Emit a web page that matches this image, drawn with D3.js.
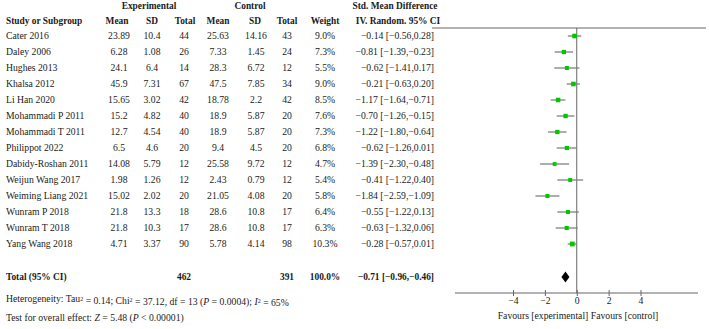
<!DOCTYPE html>
<html><head><meta charset="utf-8">
<script src="https://cdn.jsdelivr.net/npm/d3@7"></script>
<style>body{margin:0;background:#fff}svg{display:block}text{font-family:"Liberation Serif","Times New Roman",serif;fill:#1a1a1a}</style>
</head><body><svg id="c" width="709" height="329"></svg>
<script>
const studies = ["Cater 2016","Daley 2006","Hughes 2013","Khalsa 2012","Li Han 2020","Mohammadi P 2011","Mohammadi T 2011","Philippot 2022","Dabidy-Roshan 2011","Weijun Wang 2017","Weiming Liang 2021","Wunram P 2018","Wunram T 2018","Yang Wang 2018"];
const expMean = ["23.89","6.28","24.1","45.9","15.65","15.2","12.7","6.5","14.08","1.98","15.02","21.8","21.8","4.71"];
const expSD = ["10.4","1.08","6.4","7.31","3.02","4.82","4.54","4.6","5.79","1.26","2.02","13.3","10.3","3.37"];
const expN = [44,26,14,67,42,40,40,20,12,12,20,18,17,90];
const ctlMean = ["25.63","7.33","28.3","47.5","18.78","18.9","18.9","9.4","25.58","2.43","21.05","28.6","28.6","5.78"];
const ctlSD = ["14.16","1.45","6.72","7.85","2.2","5.87","5.87","4.5","9.72","0.79","4.08","10.8","10.8","4.14"];
const ctlN = [43,24,12,34,42,20,20,20,12,12,20,17,17,98];
const weight = [9.0,7.3,5.5,9.0,8.5,7.6,7.3,6.8,4.7,5.4,5.8,6.4,6.3,10.3];
const smd = [-0.14,-0.81,-0.62,-0.21,-1.17,-0.70,-1.22,-0.62,-1.39,-0.41,-1.84,-0.55,-0.63,-0.28];
const lo = [-0.56,-1.39,-1.41,-0.63,-1.64,-1.26,-1.80,-1.26,-2.30,-1.22,-2.59,-1.22,-1.32,-0.57];
const hi = [0.28,-0.23,0.17,0.20,-0.71,-0.15,-0.64,0.01,-0.48,0.40,-1.09,0.13,0.06,0.01];
const total = {est:-0.71, lo:-0.96, hi:-0.46, expN:462, ctlN:391};
const ticks = [-4,-2,0,2,4];

const svg = d3.select("#c");
const fmt = v => (v<0?"\u2212":"") + Math.abs(v).toFixed(2);
const ciText = (e,l,h) => `${fmt(e)} [${fmt(l)},${fmt(h)}]`;

const x = d3.scaleLinear().domain([-4,4]).range([513,640.5]);
const y = d3.scaleBand().domain(studies).range([28, 28+16*studies.length]);
const yc = s => y(s) + y.bandwidth()/2;

const fs = 9.7, fsb = 9.4;
function txt(xp, yp, s, anchor, bold) {
  return svg.append("text").attr("x", xp).attr("y", yp).attr("dy","0.35em")
    .attr("text-anchor", anchor||"start").attr("font-size", bold?fsb:fs)
    .attr("font-weight", bold?"bold":"normal").text(s);
}
// headers
txt(149, 6, "Experimental", "middle", true);
txt(250, 6, "Control", "middle", true);
txt(395, 6, "Std. Mean Difference", "middle", true);
txt(6, 21, "Study or Subgroup", "start", true);
txt(117, 21, "Mean", "middle", true);
txt(152, 21, "SD", "middle", true);
txt(185, 21, "Total", "middle", true);
txt(218, 21, "Mean", "middle", true);
txt(255, 21, "SD", "middle", true);
txt(287, 21, "Total", "middle", true);
txt(325, 21, "Weight", "middle", true);
txt(398, 21, "IV. Random. 95% CI", "middle", true);

studies.forEach((s,i) => {
  const yy = yc(s);
  txt(6, yy, s);
  txt(119, yy, expMean[i], "middle");
  txt(152, yy, expSD[i], "middle");
  txt(184, yy, expN[i], "middle");
  txt(218, yy, ctlMean[i], "middle");
  txt(256, yy, ctlSD[i], "middle");
  txt(287, yy, ctlN[i], "middle");
  txt(325, yy, weight[i].toFixed(1)+"%", "middle");
  txt(434, yy, ciText(smd[i],lo[i],hi[i]), "end");
});

const yTot = 277;
txt(6, yTot, "Total (95% CI)", "start", true);
txt(184, yTot, total.expN, "middle", true);
txt(287, yTot, total.ctlN, "middle", true);
txt(325, yTot, "100.0%", "middle", true);
txt(434, yTot, ciText(total.est,total.lo,total.hi), "end", true);

// heterogeneity
const het = svg.append("text").attr("x",6).attr("y",299).attr("dy","0.35em").attr("font-size",fs);
het.append("tspan").text("Heterogeneity: Tau");
het.append("tspan").attr("font-size",6).attr("dy","-0.3em").text("2");
het.append("tspan").attr("dy","0.3em").text(" = 0.14; Chi");
het.append("tspan").attr("font-size",6).attr("dy","-0.3em").text("2");
het.append("tspan").attr("dy","0.3em").text(" = 37.12, df = 13 (");
het.append("tspan").attr("font-style","italic").text("P");
het.append("tspan").text(" = 0.0004); ");
het.append("tspan").attr("font-style","italic").text("I");
het.append("tspan").attr("font-size",6).attr("dy","-0.3em").text("2");
het.append("tspan").attr("dy","0.3em").text(" = 65%");

const tst = svg.append("text").attr("x",6).attr("y",318).attr("dy","0.35em").attr("font-size",fs);
tst.append("tspan").text("Test for overall effect: ");
tst.append("tspan").attr("font-style","italic").text("Z");
tst.append("tspan").text(" = 5.48 (");
tst.append("tspan").attr("font-style","italic").text("P");
tst.append("tspan").text(" < 0.00001)");

// plot
const axisY = 293;
svg.append("line").attr("x1",432).attr("x2",706).attr("y1",28).attr("y2",28).attr("stroke","#666").attr("stroke-width",1);
svg.append("line").attr("x1",x(0)).attr("x2",x(0)).attr("y1",28).attr("y2",axisY).attr("stroke","#666").attr("stroke-width",1);

const sz = d3.scaleSqrt().domain([4.7,10.3]).range([3.8,4.8]);
studies.forEach((s,i) => {
  const yy = yc(s);
  svg.append("line").attr("x1",x(lo[i])).attr("x2",x(hi[i])).attr("y1",yy).attr("y2",yy).attr("stroke","#808080").attr("stroke-width",1.3);
  const w = sz(weight[i]);
  svg.append("rect").attr("x",x(smd[i])-w/2).attr("y",yy-w/2).attr("width",w).attr("height",w).attr("fill","#00c800");
});
svg.append("path").attr("d", `M${x(total.lo)},${yTot} L${x(total.est)},${yTot-5.5} L${x(total.hi)},${yTot} L${x(total.est)},${yTot+5.5} Z`).attr("fill","#000");

// axis
svg.append("line").attr("x1",455).attr("x2",698).attr("y1",axisY).attr("y2",axisY).attr("stroke","#666").attr("stroke-width",1);
const ax = svg.append("g").attr("transform",`translate(0,${axisY})`)
  .call(d3.axisBottom(x).tickValues(ticks).tickSize(3).tickFormat(d => (d<0?"\u2212":"")+Math.abs(d)));
ax.select(".domain").remove();
ax.selectAll(".tick line").attr("y1",-3).attr("y2",3).attr("stroke","#666");
ax.selectAll(".tick text").attr("y",4).attr("font-size",fs).attr("font-family","Liberation Serif, serif").attr("fill","#1a1a1a");
txt(578, 316, "Favours [experimental] Favours [control]", "middle");
</script></body></html>
